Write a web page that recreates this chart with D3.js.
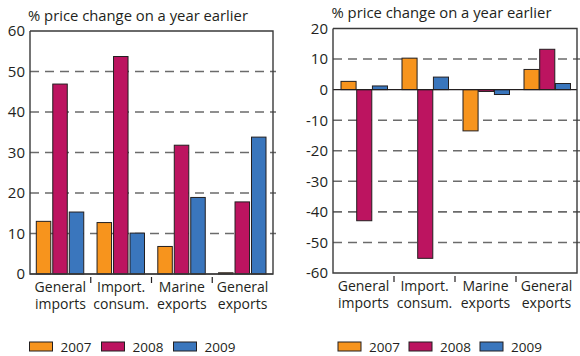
<!DOCTYPE html>
<html>
<head>
<meta charset="utf-8">
<script src="https://cdn.jsdelivr.net/npm/d3@7"></script>
<style>
  html, body { margin: 0; padding: 0; background: #fff; }
  svg text { font-family: "Open Sans", "DejaVu Sans", sans-serif; fill: #231f20; }
</style>
</head>
<body>
<svg id="chart" width="580" height="356"></svg>
<script>
// Category labels (two lines each), series names and colours
const categories = [["General", "imports"], ["Import.", "consum."], ["Marine", "exports"], ["General", "exports"]];
const seriesNames = ["2007", "2008", "2009"];
const seriesColors = ["#f7941d", "#bc1460", "#3a76bd"];
const axisTitle = "% price change on a year earlier";

// Left panel: % change, values per category
const left2007 = [13.0, 12.7, 6.8, 0.3];
const left2008 = [46.9, 53.7, 31.8, 17.8];
const left2009 = [15.3, 10.1, 18.9, 33.8];
const leftTicks = [0, 10, 20, 30, 40, 50, 60];

// Right panel: % change, values per category
const right2007 = [2.7, 10.3, -13.5, 6.6];
const right2008 = [-42.9, -55.2, -0.6, 13.2];
const right2009 = [1.2, 4.1, -1.6, 2.0];
const rightTicks = [-60, -50, -40, -30, -20, -10, 0, 10, 20];

const svg = d3.select("#chart");

function drawPanel(cfg) {
  const { x0px, x1px, y0px, y1px, domain, ticks, values, titleX, titleY, innerPad, innerGap, legendX, legendStep } = cfg;
  const g = svg.append("g");

  // y0px is the bottom edge, y1px the top edge of the plot
  const y = d3.scaleLinear().domain(domain).range([y0px, y1px]);
  const x0 = d3.scaleBand().domain(d3.range(categories.length)).range([x0px, x1px]).padding(0);
  const x1 = d3.scaleBand().domain(seriesNames)
    .range([innerPad[0], x0.bandwidth() - innerPad[1]]).paddingInner(innerGap);

  // Title
  g.append("text").attr("x", titleX).attr("y", titleY)
    .attr("font-size", "14.8px").text(axisTitle);

  // Dashed gridlines (interior ticks only, excluding zero)
  g.append("g").selectAll("line")
    .data(ticks.filter(t => t !== 0 && t !== domain[0] && t !== domain[1]))
    .join("line")
    .attr("x1", x0px).attr("x2", x1px + 3)
    .attr("y1", d => y(d)).attr("y2", d => y(d))
    .attr("stroke", "#6b6b6b").attr("stroke-width", 1.6)
    .attr("stroke-dasharray", "9,6");

  // Bars
  const rows = categories.map((c, i) => seriesNames.map((s, j) => ({ cat: i, s, j, v: values[j][i] })));
  g.append("g").selectAll("g")
    .data(rows)
    .join("g")
    .attr("transform", (d, i) => `translate(${x0(i)},0)`)
    .selectAll("rect")
    .data(d => d)
    .join("rect")
    .attr("x", d => x1(d.s))
    .attr("width", x1.bandwidth())
    .attr("y", d => y(Math.max(0, d.v)))
    .attr("height", d => Math.abs(y(d.v) - y(0)))
    .attr("fill", d => seriesColors[d.j])
    .attr("stroke", "#231f20").attr("stroke-width", 1);

  // Zero line
  g.append("line").attr("x1", x0px).attr("x2", x1px)
    .attr("y1", y(0)).attr("y2", y(0))
    .attr("stroke", "#231f20").attr("stroke-width", 1.2);

  // Frame
  g.append("path")
    .attr("d", `M${x0px},${y1px}V${y0px}H${x1px}V${y1px}H${x0px}`)
    .attr("fill", "none").attr("stroke", "#3a3a3a").attr("stroke-width", 1.4);

  // Y axis labels
  const yAxis = d3.axisLeft(y).tickValues(ticks).tickSize(0).tickPadding(5)
    .tickFormat(d => String(d));
  const ya = g.append("g").attr("transform", `translate(${x0px},0)`).call(yAxis);
  ya.select(".domain").remove();
  ya.selectAll("text").attr("font-size", "15px").attr("font-family", null).attr("fill", "#231f20");

  // Category separators below the axis
  g.append("g").selectAll("line")
    .data(d3.range(1, categories.length))
    .join("line")
    .attr("x1", i => x0(i)).attr("x2", i => x0(i))
    .attr("y1", y0px + 3).attr("y2", y0px + 9)
    .attr("stroke", "#231f20").attr("stroke-width", 1.2);

  // Category labels, two lines each
  const cx = i => x0(i) + x0.bandwidth() / 2;
  const lab = g.append("g").selectAll("text")
    .data(categories)
    .join("text")
    .attr("text-anchor", "middle")
    .attr("font-size", "14px");
  lab.append("tspan").attr("x", (d, i) => cx(i)).attr("y", y0px + 18).text(d => d[0]);
  lab.append("tspan").attr("x", (d, i) => cx(i)).attr("y", y0px + 35).text(d => d[1]);

  // Legend
  const lg = g.append("g").selectAll("g")
    .data(seriesNames)
    .join("g")
    .attr("transform", (d, i) => `translate(${legendX + i * legendStep},342)`);
  lg.append("rect").attr("width", 23).attr("height", 9)
    .attr("fill", (d, i) => seriesColors[i])
    .attr("stroke", "#231f20").attr("stroke-width", 1);
  lg.append("text").attr("x", 31).attr("y", 9.5)
    .attr("font-size", "13.5px").text(d => d);
}

drawPanel({
  x0px: 30, x1px: 273, y0px: 274, y1px: 31,
  domain: [0, 60], ticks: leftTicks,
  values: [left2007, left2008, left2009],
  titleX: 28, titleY: 20.5,
  innerPad: [6.3, 7], innerGap: 0.12,
  legendX: 29.5, legendStep: 72
});

drawPanel({
  x0px: 333, x1px: 577, y0px: 273, y1px: 28.5,
  domain: [-60, 20], ticks: rightTicks,
  values: [right2007, right2008, right2009],
  titleX: 331.5, titleY: 18,
  innerPad: [8, 6.5], innerGap: 0.04,
  legendX: 338, legendStep: 71
});
</script>
</body>
</html>
